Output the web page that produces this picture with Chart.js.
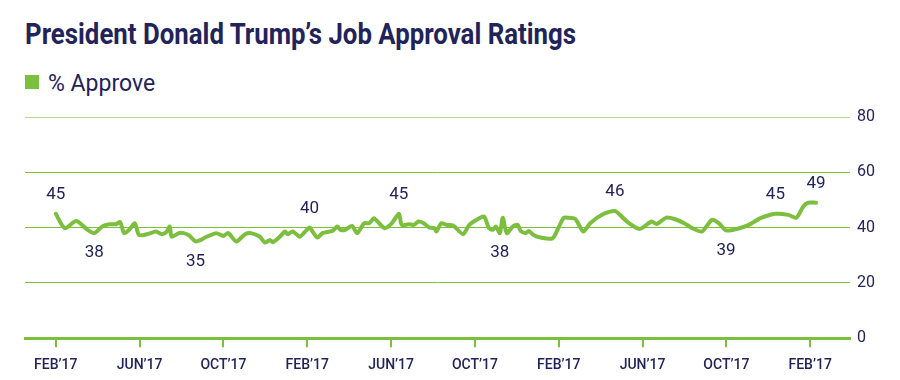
<!DOCTYPE html>
<html>
<head>
<meta charset="utf-8">
<script src="https://cdn.jsdelivr.net/npm/chart.js@4"></script>
<style>
    body { margin: 0; width: 900px; height: 380px; background: #fff; overflow: hidden; font-family: Roboto, sans-serif; }
    #title {
        position: absolute; left: 25px; top: 17px; margin: 0;
        font-size: 29px; font-weight: 700; color: #22235a; white-space: nowrap;
        transform-origin: left top; transform: scaleX(0.89);
    }
    #legend { position: absolute; left: 25px; top: 70px; color: #22235a; font-size: 23px; }
    #legend span.box { display: inline-block; width: 14px; height: 14px; background: #7cbf3f; margin-right: 9px; vertical-align: 2px; }
    #wrap { position: absolute; left: 0; top: 100px; width: 900px; height: 286px; }
</style>
</head>
<body>
<h1 id="title">President Donald Trump’s Job Approval Ratings</h1>
<div id="legend"><span class="box"></span>% Approve</div>
<div id="wrap"><canvas id="chart"></canvas></div>
<script>
// months after the first FEB’17 tick
const months = [
    0.0, 0.43, 0.98, 1.51, 1.84, 2.22, 2.55, 2.87, 3.07, 3.26, 3.5, 3.77, 3.97,
    4.35, 4.78, 5.06, 5.3, 5.44, 5.53, 5.87, 6.1, 6.34, 6.67, 6.91, 7.19, 7.66, 7.99,
    8.23, 8.61, 9.03, 9.32, 9.74, 9.98, 10.22, 10.36, 10.69, 10.93, 11.07, 11.31, 11.64, 11.87,
    12.11, 12.25, 12.49, 12.72, 13.2, 13.43, 13.58, 13.81, 14.14, 14.38, 14.71, 14.95, 15.18, 15.33, 15.7,
    16.04, 16.37, 16.51, 16.84, 17.08, 17.31, 17.55, 17.83, 18.07, 18.16, 18.4, 18.64, 18.97, 19.44, 19.73,
    20.15, 20.44, 20.67, 20.86, 21.0, 21.19, 21.33, 21.52, 21.81, 22.04, 22.18, 22.42, 22.56, 22.8, 23.13, 23.7, 23.94,
    24.22, 24.41, 24.79, 25.17, 25.5, 26.11, 26.68, 26.92, 27.3, 27.86,
    28.43, 28.67, 29.14, 29.52, 29.99, 30.37, 30.84, 31.31, 31.64, 31.98,
    32.5, 33.07, 33.63, 34.34, 34.96, 35.34, 35.67, 35.9, 36.28
];
const approve = [
    45, 39.8, 42.4, 39.2, 38, 40.4, 41.2, 41.2, 42, 38, 39.2, 41.6, 37.3,
    37.6, 38.6, 37.6, 38.6, 40.4, 36.7, 38, 38, 37.3, 35, 35.5, 36.7, 38, 37,
    38, 35, 37.6, 38, 36.7, 34.6, 35.5, 34.7, 36.7, 38.6, 37.6, 38.6, 36.7, 38.3,
    40, 38.6, 36.4, 38, 38.8, 40.4, 39.2, 39.2, 40.6, 38, 41.6, 41.6, 43.4, 42.4, 39.8,
    41.6, 45, 41, 41.2, 41, 42.2, 41.6, 40, 39.8, 38.6, 41.6, 41, 40.7, 37.6, 41,
    43.1, 44, 39.8, 39.2, 40.4, 38, 43.6, 38, 40.4, 41, 38.8, 38, 38.8, 37.3, 36.4, 36.1, 39.2,
    43.4, 43.6, 43.1, 38.6, 41.6, 44.8, 46, 44.6, 41.9, 39.5,
    42.2, 41.3, 43.6, 43.1, 41.6, 39.8, 38.6, 42.8, 41.6, 39,
    39.5, 41, 43.4, 45, 44.6, 43.6, 47.6, 49, 49
];
const tickLabels = ['FEB’17', 'JUN’17', 'OCT’17', 'FEB’17', 'JUN’17', 'OCT’17', 'FEB’17', 'JUN’17', 'OCT’17', 'FEB’17'];
const yTicks = [0, 20, 40, 60, 80];

// which points carry a value label, and on which side
const labelIdx = [0, 4, 22, 41, 57, 76, 94, 107, 111, 116];
const labelSide = ['above', 'below', 'below', 'above', 'above', 'below', 'above', 'below', 'above', 'above'];

const NAVY = '#22235a';
const GREEN = '#7cbf3f';

const valueLabels = {
    id: 'valueLabels',
    afterDatasetsDraw(chart) {
        const ctx = chart.ctx;
        const pts = chart.getDatasetMeta(0).data;
        ctx.save();
        ctx.font = '17px Roboto';
        ctx.fillStyle = NAVY;
        ctx.textAlign = 'center';
        ctx.textBaseline = 'middle';
        labelIdx.forEach((i, k) => {
            const p = pts[i];
            if (!p) return;
            const dy = labelSide[k] === 'above' ? -19 : 20;
            ctx.fillText(String(Math.round(approve[i])), p.x, p.y + dy);
        });
        ctx.restore();
    }
};

new Chart(document.getElementById('chart'), {
    type: 'line',
    data: {
        datasets: [{
            data: months.map((m, i) => ({ x: m, y: approve[i] })),
            borderColor: GREEN,
            borderWidth: 4,
            borderCapStyle: 'round',
            borderJoinStyle: 'round',
            pointRadius: 0,
            tension: 0.25,
            fill: false
        }]
    },
    options: {
        responsive: true,
        maintainAspectRatio: false,
        animation: false,
        layout: { padding: { left: 25, top: 17, right: 18, bottom: 2 } },
        plugins: { legend: { display: false }, tooltip: { enabled: false } },
        scales: {
            x: {
                type: 'linear',
                min: -1.47,
                max: 37.9,
                afterBuildTicks: (scale) => {
                    scale.ticks = tickLabels.map((_, i) => ({ value: i * 4 }));
                },
                ticks: {
                    autoSkip: false,
                    maxRotation: 0,
                    color: NAVY,
                    font: { family: 'Roboto', size: 14, weight: '500' },
                    padding: 10,
                    callback: (v) => tickLabels[Math.round(v / 4)]
                },
                grid: { drawOnChartArea: false, drawTicks: true, tickLength: 9, color: GREEN, lineWidth: 2 },
                border: { display: true, color: GREEN, width: 3 }
            },
            y: {
                position: 'right',
                min: 0,
                max: 80,
                afterBuildTicks: (scale) => {
                    scale.ticks = yTicks.map(v => ({ value: v }));
                },
                ticks: {
                    color: NAVY,
                    font: { family: 'Roboto', size: 16 },
                    padding: 7
                },
                grid: {
                    drawTicks: false,
                    color: (c) => c.tick && c.tick.value === 80 ? '#b3d98a' : GREEN,
                    lineWidth: 1
                },
                border: { display: false }
            }
        }
    },
    plugins: [valueLabels]
});
</script>
</body>
</html>
